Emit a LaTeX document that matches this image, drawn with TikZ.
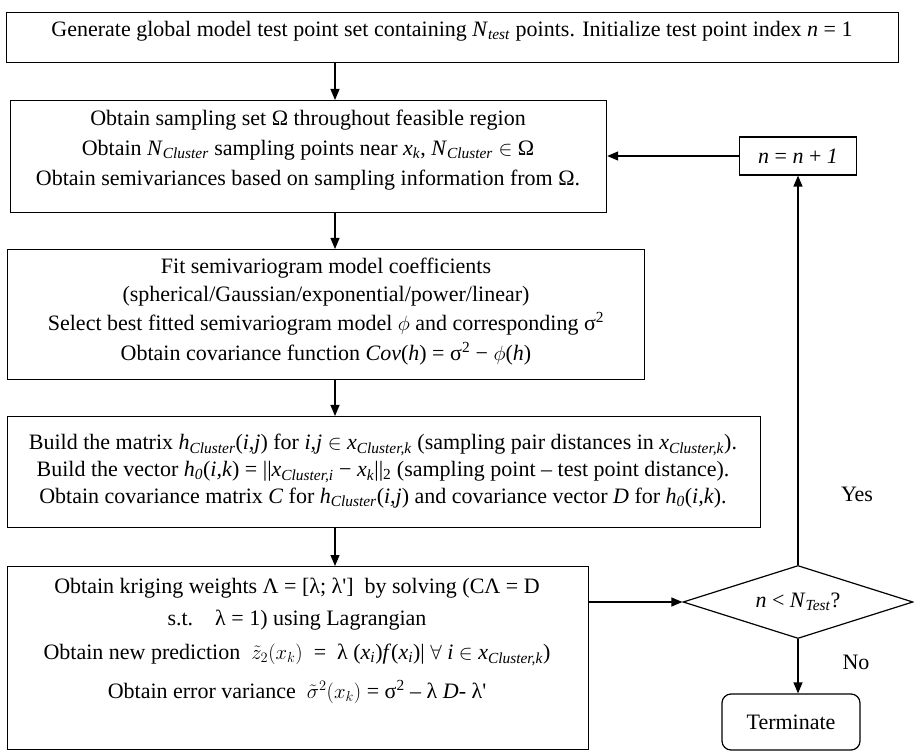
\documentclass[tikz,border=0pt]{standalone}
\usepackage{fontspec}
\setmainfont{Liberation Serif}
\usetikzlibrary{arrows.meta,shapes.geometric}
\tikzset{
  box/.style={draw, line width=1.2pt, anchor=north west, inner sep=0pt},
  txt/.style={inner sep=0pt, font=\fontsize{22}{26}\selectfont},
  conn/.style={line width=1.2pt, -{Triangle[length=11pt,width=9pt]}},
  decision/.style={draw, diamond, aspect=3.1, line width=1.2pt, inner sep=0pt, minimum width=230pt, minimum height=73pt},
  term/.style={draw, rounded corners=9pt, line width=1.2pt, minimum width=138pt, minimum height=56pt, inner sep=0pt}
}
\newcommand{\iti}[1]{\textit{#1}}
\newcommand{\sbi}[1]{\textsubscript{\textit{#1}}}
\begin{document}
\begin{tikzpicture}[x=1pt,y=-1pt]
\useasboundingbox (0,0) rectangle (914,751);
% boxes
\node[box, minimum width=892pt, minimum height=50pt] (b1) at (6,12) {};
\node[box, minimum width=596pt, minimum height=112pt] (b2) at (10,100) {};
\node[box, minimum width=637pt, minimum height=130pt] (b3) at (7,249) {};
\node[box, minimum width=753pt, minimum height=111pt] (b4) at (7,416) {};
\node[box, minimum width=581pt, minimum height=183pt] (b5) at (7,566) {};
\node[draw, line width=1.2pt, minimum width=117pt, minimum height=38pt, inner sep=0pt] (inc) at (798,156) {};
\node[decision] (dec) at (798,602) {};
\node[term, txt] (term) at (791,722) {Terminate};
% texts
\node[txt] (t1) at (452,31) {Generate global model test point set containing \iti{N}\sbi{test} points. Initialize test point index \iti{n} = 1};
\node[txt] (t21) at (308,120) {Obtain sampling set Ω throughout feasible region};
\node[txt] (t22) at (308,150) {Obtain \iti{N}\sbi{Cluster} sampling points near \iti{x}\sbi{k}, \iti{N}\sbi{Cluster} $\in$ Ω};
\node[txt] (t23) at (308,180) {Obtain semivariances based on sampling information from Ω.};
\node[txt] (t31) at (326,268) {Fit semivariogram model coefficients};
\node[txt] (t32) at (326,296) {(spherical/Gaussian/exponential/power/linear)};
\node[txt] (t33) at (326,324) {Select best fitted semivariogram model $\phi$ and corresponding σ\textsuperscript{2}};
\node[txt] (t34) at (326,354) {Obtain covariance function \iti{Cov}(\iti{h}) = σ\textsuperscript{2} − $\phi$(\iti{h})};
\node[txt] (t41) at (383,445) {Build the matrix \iti{h}\sbi{Cluster}(\iti{i,j}) for \iti{i,j} $\in$ \iti{x}\sbi{Cluster,k} (sampling pair distances in \iti{x}\sbi{Cluster,k}).};
\node[txt] (t42) at (383,472) {Build the vector \iti{h}\sbi{0}(\iti{i,k}) = ||\iti{x}\sbi{Cluster,i} − \iti{x}\sbi{k}||\textsubscript{2} (sampling point – test point distance).};
\node[txt] (t43) at (383,498) {Obtain covariance matrix \iti{C} for \iti{h}\sbi{Cluster}(\iti{i,j}) and covariance vector \iti{D} for \iti{h}\sbi{0}(\iti{i,k}).};
\node[txt] (t51) at (297,588) {Obtain kriging weights Λ = [λ; λ\textquotesingle]~ by solving (CΛ = D};
\node[txt] (t52) at (297,620) {s.t.~~~~λ = 1) using Lagrangian};
\node[txt] (t53) at (297,655) {Obtain new prediction ~$\tilde{z}_2(x_k)$ ~= ~λ (\iti{x}\sbi{i})\iti{f}(\iti{x}\sbi{i})| $\forall$ \iti{i} $\in$ \iti{x}\sbi{Cluster,k})};
\node[txt] (t54) at (297,692) {Obtain error variance ~$\tilde{\sigma}^2(x_k)$ = σ\textsuperscript{2} – λ \iti{D}- λ\textquotesingle};
\node[txt] (tinc) at (inc) {\iti{n} = \iti{n} + \iti{1}};
\node[txt] (tdec) at (dec) {\iti{n} < \iti{N}\sbi{Test}?};
\node[txt] (yes) at (857,494) {Yes};
\node[txt] (no) at (856,662) {No};
% connectors
\draw[conn] (b1.south -| 335,0) -- (b2.north -| 335,0);
\draw[conn] (b2.south -| 335,0) -- (b3.north -| 335,0);
\draw[conn] (b3.south -| 335,0) -- (b4.north -| 335,0);
\draw[conn] (b4.south -| 335,0) -- (b5.north -| 335,0);
\draw[conn] (b5.east |- dec.west) -- (dec.west);
\draw[conn] (dec.north) -- (inc.south);
\draw[conn] (inc.west) -- (b2.east |- inc.west);
\draw[conn] (dec.south) -- (dec.south |- term.north);
\end{tikzpicture}
\end{document}
